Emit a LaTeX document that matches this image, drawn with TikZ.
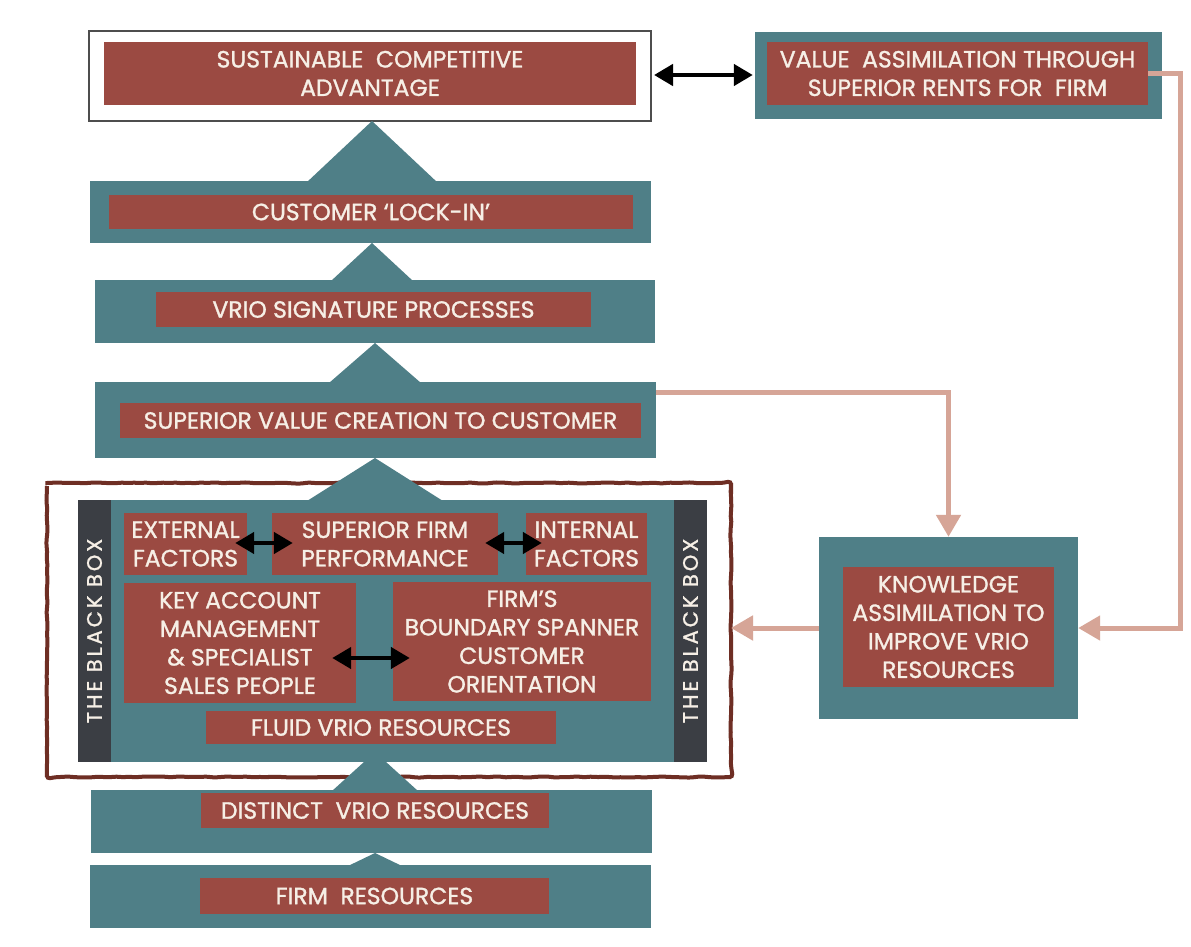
\documentclass[tikz,border=0pt]{standalone}
\usepackage{fontspec}
\newfontfamily\boxfont[FakeBold=1.2]{Poppins}
\newfontfamily\barfont[FakeBold=1.2,LetterSpace=14]{Poppins}
\usetikzlibrary{arrows.meta,decorations.pathmorphing,calc}

\definecolor{cTeal}{HTML}{4F7F87}
\definecolor{cRed}{HTML}{9B4A42}
\definecolor{cCream}{HTML}{F6EFE6}
\definecolor{cBar}{HTML}{3B3E44}
\definecolor{cBrown}{HTML}{6E2E24}
\definecolor{cPink}{HTML}{D6A597}
\definecolor{cGrey}{HTML}{4E4E4E}

\tikzset{
  wh/.style 2 args={minimum width=#1pt, minimum height=#2pt},
  panel/.style={fill=cTeal, draw=none, inner sep=0pt},
  label/.style={fill=cRed, draw=none, inner sep=0pt, text=cCream, align=center,
    font=\boxfont\fontsize{23.5}{28.5}\selectfont},
  roof/.style={fill=cTeal},
  bar/.style={fill=cBar, draw=none, inner sep=0pt, rotate=90, text=cCream,
    font=\barfont\fontsize{21}{24}\selectfont},
  twoway/.style={black, line width=4.5pt,
    {Triangle[length=19pt,width=21pt]}-{Triangle[length=19pt,width=21pt]}},
  feedback/.style={cPink, line width=5pt, -{Triangle[length=22pt,width=24pt]}},
  roughframe/.style={cBrown, line width=4pt, rounded corners=3pt,
    decorate, decoration={random steps, segment length=6pt, amplitude=0.6pt}},
}

\begin{document}
\begin{tikzpicture}[x=1pt, y=-1pt]
  \useasboundingbox (0,0) rectangle (1191,947);
  \fill[white] (0,0) rectangle (1191,947);

  % ---- top: sustainable competitive advantage and value assimilation
  \node[fill=white, draw=cGrey, line width=2pt, inner sep=0pt, wh={562}{90}] (scaframe) at (370,76) {};
  \node[label, wh={532}{63}] (sca) at (370,73.5) {SUSTAINABLE~ COMPETITIVE\\ADVANTAGE};

  \node[panel, wh={407}{87}] (valteal) at (958.5,75.5) {};
  \node[label, wh={381}{63}] (val) at (957.5,73.5) {VALUE~ ASSIMILATION THROUGH\\SUPERIOR RENTS FOR~ FIRM};

  % ---- roofs joining the stacked panels
  \fill[roof] (372,121) -- (306,183) -- (438,183) -- cycle;
  \fill[roof] (372,243) -- (331,281) -- (413,281) -- cycle;
  \fill[roof] (375,343) -- (329,383) -- (421,383) -- cycle;

  % ---- stacked panels
  \node[panel, wh={561}{62}] (lockteal) at (370.5,212) {};
  \node[label, wh={524}{34}] (lock) at (371,212) {CUSTOMER ‘LOCK-IN’};

  \node[panel, wh={560}{63}] (sigteal) at (375,311.5) {};
  \node[label, wh={435}{35}] (sig) at (373.5,309.5) {VRIO SIGNATURE PROCESSES};

  \node[panel, wh={561}{76}] (svteal) at (375.5,420) {};
  \node[label, wh={521}{35}] (sv) at (380.5,420.5) {SUPERIOR VALUE CREATION TO CUSTOMER};

  % ---- the black box
  \draw[roughframe] (47,483) rectangle (731,777);
  \node[panel, wh={563}{262}] (bbteal) at (392.5,631) {};
  \node[bar, minimum width=262pt, minimum height=33pt] (barL) at (94.5,631) {THE BLACK BOX};
  \node[bar, minimum width=262pt, minimum height=33pt] (barR) at (690.5,631) {THE BLACK BOX};

  \fill[roof] (375,458) -- (307,501) -- (443,501) -- cycle;
  \fill[roof] (375,752) -- (332,791) -- (418,791) -- cycle;
  \fill[roof] (375,853) -- (348,866) -- (402,866) -- cycle;

  \node[label, wh={123}{62}] (ext) at (185.5,544) {EXTERNAL\\FACTORS};
  \node[label, wh={226}{62}] (sfp) at (385,544) {SUPERIOR FIRM\\PERFORMANCE};
  \node[label, wh={121}{62}] (int) at (586.5,544) {INTERNAL\\FACTORS};
  \node[label, wh={232}{120}] (kam) at (240,643) {KEY ACCOUNT\\MANAGEMENT\\\& SPECIALIST\\SALES PEOPLE};
  \node[label, wh={258}{119}] (bsc) at (522,641.5) {FIRM’S\\BOUNDARY SPANNER\\CUSTOMER\\ORIENTATION};
  \node[label, wh={350}{33}] (fluid) at (381,727.5) {FLUID VRIO RESOURCES};

  % ---- base panels
  \node[panel, wh={561}{63}] (distteal) at (371.5,821.5) {};
  \node[label, wh={348}{35}] (dist) at (375,810.5) {DISTINCT~ VRIO RESOURCES};

  \node[panel, wh={561}{63}] (firmteal) at (370.5,896.5) {};
  \node[label, wh={349}{36}] (firm) at (374.5,896) {FIRM~ RESOURCES};

  % ---- knowledge assimilation
  \node[panel, wh={259}{182}] (knowteal) at (948.5,628) {};
  \node[label, wh={211}{120}] (know) at (948.5,627) {KNOWLEDGE\\ASSIMILATION TO\\IMPROVE VRIO\\RESOURCES};

  % ---- two-way links
  \draw[twoway] ($(scaframe.east)+(2,-1)$) -- ($(valteal.west)+(-2,-0.5)$);
  \draw[twoway] ($(ext.east)+(-12,-1)$) -- ($(sfp.west)+(21,-1)$);
  \draw[twoway] ($(sfp.east)+(-13,-1)$) -- ($(int.west)+(16,-1)$);
  \draw[twoway] ($(kam.east)+(-24,15)$) -- ($(kam.east -| bsc.west)+(17,15)$);

  % ---- feedback loops
  \coordinate (rail) at (1180,300);
  \draw[feedback] ($(svteal.north east)+(0,11)$) -| (knowteal.north);
  \draw[feedback] (val.east) -| (rail) |- (knowteal.east);
  \draw[feedback] (knowteal.west) -- (knowteal.west -| 731,0);
\end{tikzpicture}
\end{document}
